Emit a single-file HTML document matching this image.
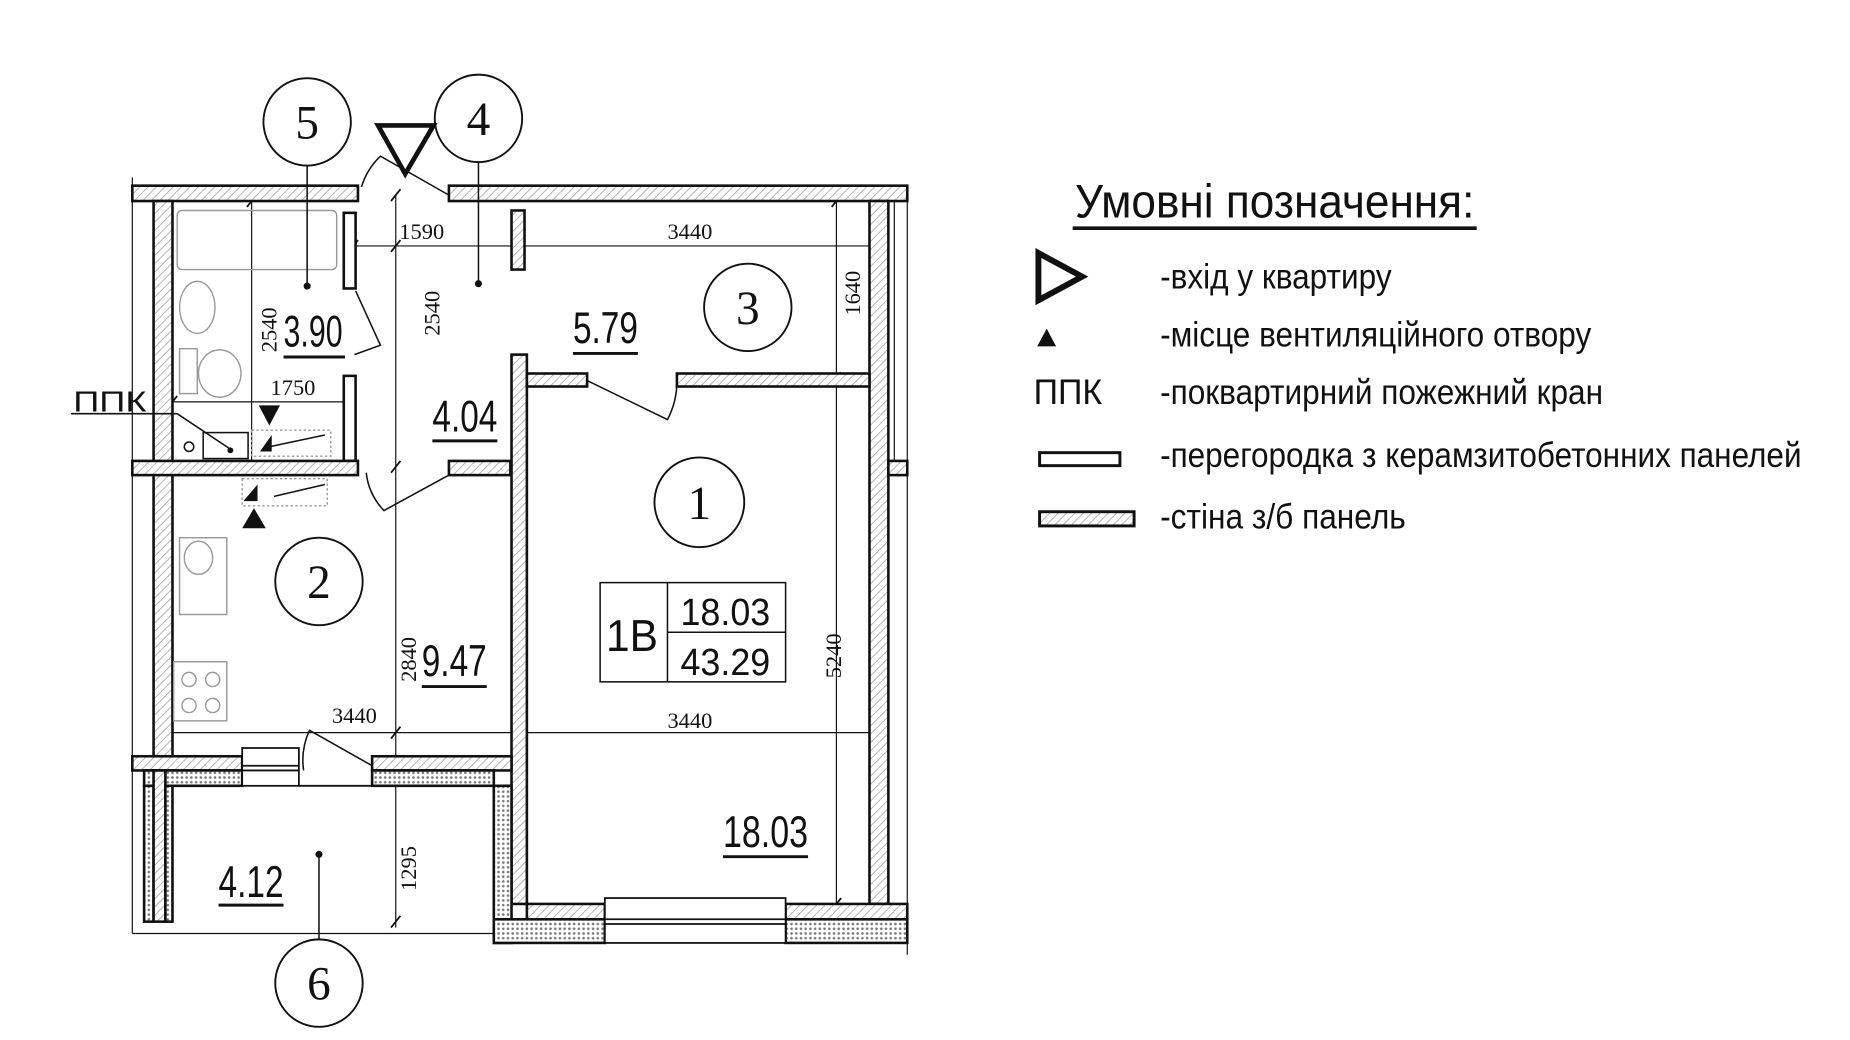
<!DOCTYPE html>
<html><head><meta charset="utf-8"><style>
html,body{margin:0;padding:0;background:#fff;}
svg{display:block;}
text{font-family:"Liberation Sans","Noto Sans CJK SC",sans-serif;fill:#111;}
.s{font-family:"Liberation Serif",serif;}
</style></head><body>
<svg width="1850" height="1040" viewBox="0 0 1566 880" xmlns="http://www.w3.org/2000/svg">
<defs>
<pattern id="h" width="5" height="5" patternUnits="userSpaceOnUse" patternTransform="rotate(45)">
<rect width="5" height="5" fill="#fff"/><line x1="0" y1="0" x2="0" y2="5" stroke="#aaa" stroke-width="1.5"/></pattern>
<pattern id="d" width="4" height="4" patternUnits="userSpaceOnUse">
<rect width="4" height="4" fill="#fff"/><circle cx="2" cy="2" r="1.1" fill="#777"/></pattern>
</defs>
<rect width="1566" height="880" fill="#fff"/>
<g stroke="#111" fill="none" stroke-width="1">
<line x1="112" y1="150" x2="112" y2="790"/>
<line x1="768" y1="160" x2="768" y2="808"/>
<line x1="112" y1="790" x2="420" y2="790"/>
<line x1="757" y1="170" x2="757" y2="390"/>
<line x1="290" y1="208" x2="745" y2="208"/>
<line x1="335" y1="165" x2="335" y2="785"/>
<line x1="213" y1="170" x2="213" y2="395"/>
<line x1="147" y1="340" x2="300" y2="340"/>
<line x1="140" y1="620" x2="745" y2="620"/>
<line x1="708" y1="170" x2="708" y2="770"/>
<g stroke-width="1.5">
<line x1="295" y1="213" x2="303" y2="203"/><line x1="331" y1="213" x2="339" y2="203"/><line x1="435" y1="213" x2="443" y2="203"/><line x1="740" y1="213" x2="748" y2="203"/>
<line x1="142" y1="345" x2="150" y2="335"/><line x1="293" y1="345" x2="301" y2="335"/>
<line x1="138" y1="625" x2="146" y2="615"/><line x1="331" y1="625" x2="339" y2="615"/><line x1="436" y1="625" x2="444" y2="615"/><line x1="740" y1="625" x2="748" y2="615"/>
<line x1="331" y1="170" x2="339" y2="160"/><line x1="331" y1="400" x2="339" y2="390"/><line x1="331" y1="657" x2="339" y2="647"/><line x1="331" y1="785" x2="339" y2="775"/>
<line x1="209" y1="175" x2="217" y2="165"/><line x1="209" y1="400" x2="217" y2="390"/>
<line x1="704" y1="325" x2="712" y2="315"/><line x1="704" y1="175" x2="712" y2="165"/><line x1="704" y1="770" x2="712" y2="760"/>
</g>
</g>
<g stroke="#111" stroke-width="2.2">
<rect x="112" y="157" width="191" height="13" fill="url(#h)"/>
<rect x="380" y="157" width="388" height="13" fill="url(#h)"/>
<rect x="130" y="170" width="16" height="470" fill="url(#h)"/>
<rect x="736" y="170" width="16" height="595" fill="url(#h)"/>
<rect x="291" y="180" width="10" height="64" fill="#fff"/>
<rect x="291" y="318" width="10" height="72" fill="#fff"/>
<rect x="112" y="390" width="191" height="12" fill="url(#h)"/>
<rect x="380" y="390" width="52" height="12" fill="url(#h)"/>
<rect x="433" y="300" width="13" height="465" fill="url(#h)"/>
<rect x="433" y="178" width="11" height="50" fill="url(#h)"/>
<rect x="446" y="316" width="51" height="11" fill="url(#h)"/>
<rect x="573" y="316" width="163" height="11" fill="url(#h)"/>
<rect x="752" y="390" width="16" height="12" fill="url(#h)"/>
<rect x="112" y="640" width="93" height="12" fill="url(#h)"/>
<rect x="315" y="640" width="118" height="12" fill="url(#h)"/>
<rect x="122" y="652" width="83" height="13" fill="url(#d)"/>
<rect x="315" y="652" width="103" height="13" fill="url(#d)"/>
<rect x="122" y="665" width="8" height="115" fill="url(#d)"/>
<rect x="130" y="652" width="10" height="128" fill="url(#h)"/>
<rect x="140" y="665" width="6" height="115" fill="url(#d)"/>
<rect x="418" y="665" width="15" height="133" fill="url(#d)"/>
<rect x="446" y="765" width="66" height="13" fill="url(#h)"/>
<rect x="665" y="765" width="103" height="13" fill="url(#h)"/>
<rect x="418" y="778" width="94" height="20" fill="url(#d)"/>
<rect x="665" y="778" width="103" height="20" fill="url(#d)"/>
</g>
<g stroke="#111" stroke-width="1.5" fill="#fff">
<rect x="512" y="760" width="153" height="38"/>
<line x1="512" y1="778" x2="665" y2="778"/><line x1="512" y1="782" x2="665" y2="782"/>
<rect x="205" y="633" width="48" height="32"/>
<line x1="205" y1="648" x2="253" y2="648"/><line x1="205" y1="652" x2="253" y2="652"/>
<line x1="253" y1="665" x2="315" y2="665"/>
</g>
<g stroke="#111" stroke-width="1.3" fill="none">
<path d="M380 165 L322 132 A60 60 0 0 0 306 158"/>
<path d="M497 322 L565 355 A70 70 0 0 0 573 322"/>
<path d="M301 246 L322 292 L300 300"/>
<path d="M380 402 L325 432 A55 55 0 0 1 310 400"/>
<path d="M315 648 L262 618 A60 60 0 0 0 257 652"/>
</g>
<g stroke="#999" stroke-width="1.2" fill="none">
<rect x="150" y="178" width="135" height="50" rx="4"/>
<ellipse cx="167" cy="260" rx="15" ry="22"/>
<rect x="152" y="295" width="15" height="38"/>
<ellipse cx="186" cy="316" rx="18" ry="20"/>
<rect x="152" y="455" width="40" height="65"/><ellipse cx="168" cy="472" rx="12" ry="14"/>
<rect x="147" y="560" width="45" height="50"/><circle cx="160" cy="575" r="6"/><circle cx="180" cy="575" r="6"/><circle cx="160" cy="597" r="6"/><circle cx="180" cy="597" r="6"/>
<rect x="213" y="364" width="67" height="22" stroke-dasharray="2 2"/>
<rect x="205" y="405" width="72" height="23" stroke-dasharray="2 2"/>
</g>
<g stroke="#111" stroke-width="1.3" fill="none">
<rect x="172" y="366" width="38" height="22"/><circle cx="160" cy="378" r="4"/>
<path d="M60 350 L150 350 L195 380"/>
<path d="M228 378 L275 368 M232 420 L275 410"/>
</g>
<circle cx="195" cy="381" r="2.5" fill="#111"/>
<g fill="#111">
<polygon points="219,343 237,343 228,360"/>
<polygon points="205,447 225,447 215,430"/>
<polygon points="220,382 230,368 230,382"/>
<polygon points="206,424 218,410 218,424"/>
</g>
<g stroke="#111" stroke-width="1.6" fill="#fff">
<circle cx="260" cy="103" r="37"/>
<circle cx="405" cy="100" r="37"/>
<circle cx="633" cy="260" r="37"/>
<circle cx="592" cy="425" r="38"/>
<circle cx="270" cy="492" r="37"/>
<circle cx="270" cy="832" r="37"/>
</g>
<g stroke="#111" stroke-width="1.3">
<line x1="260" y1="140" x2="260" y2="242"/>
<line x1="405" y1="137" x2="405" y2="240"/>
<line x1="270" y1="795" x2="270" y2="723"/>
</g>
<circle cx="260" cy="242" r="3" fill="#111"/><circle cx="405" cy="240" r="3" fill="#111"/><circle cx="270" cy="723" r="3" fill="#111"/>
<polygon points="320,106 367,106 343,147" fill="none" stroke="#111" stroke-width="4"/>
<g class="s" font-size="40" text-anchor="middle">
<text class="s" x="260" y="117">5</text><text class="s" x="405" y="114">4</text><text class="s" x="633" y="274">3</text>
<text class="s" x="592" y="439">1</text><text class="s" x="270" y="506">2</text><text class="s" x="270" y="846">6</text>
</g>
<g font-size="19" class="s">
<text class="s" x="338" y="202">1590</text>
<text class="s" x="565" y="202">3440</text>
<text class="s" x="229" y="334">1750</text>
<text class="s" x="281" y="612">3440</text>
<text class="s" x="565" y="616">3440</text>
<text class="s" transform="translate(372,284) rotate(-90)">2540</text>
<text class="s" transform="translate(234,298) rotate(-90)">2540</text>
<text class="s" transform="translate(352,577) rotate(-90)">2840</text>
<text class="s" transform="translate(352,754) rotate(-90)">1295</text>
<text class="s" transform="translate(728,267) rotate(-90)">1640</text>
<text class="s" transform="translate(712,574) rotate(-90)">5240</text>
</g>
<g font-size="38">
<text x="240" y="293" textLength="50" lengthAdjust="spacingAndGlyphs">3.90</text>
<text x="485" y="290" textLength="55" lengthAdjust="spacingAndGlyphs">5.79</text>
<text x="366" y="365" textLength="55" lengthAdjust="spacingAndGlyphs">4.04</text>
<text x="357" y="572" textLength="55" lengthAdjust="spacingAndGlyphs">9.47</text>
<text x="612" y="717" textLength="72" lengthAdjust="spacingAndGlyphs">18.03</text>
<text x="185" y="759" textLength="55" lengthAdjust="spacingAndGlyphs">4.12</text>
<text x="513" y="551" textLength="44" lengthAdjust="spacingAndGlyphs">1В</text>
</g>
<g stroke="#111" stroke-width="2.5">
<line x1="240" y1="302" x2="292" y2="302"/>
<line x1="485" y1="299" x2="540" y2="299"/>
<line x1="366" y1="373" x2="421" y2="373"/>
<line x1="357" y1="581" x2="412" y2="581"/>
<line x1="612" y1="725" x2="684" y2="725"/>
<line x1="185" y1="766" x2="240" y2="766"/>
</g>
<g stroke="#111" stroke-width="1.3" fill="none">
<rect x="508" y="493" width="157" height="84"/>
<line x1="565" y1="493" x2="565" y2="577"/>
<line x1="565" y1="535" x2="665" y2="535"/>
</g>
<g font-size="32">
<text x="576" y="529" textLength="76" lengthAdjust="spacingAndGlyphs">18.03</text>
<text x="576" y="571" textLength="76" lengthAdjust="spacingAndGlyphs">43.29</text>
</g>
<text x="62" y="348" font-size="24" textLength="62" lengthAdjust="spacingAndGlyphs">ППК</text>
<text x="910" y="184" font-size="40" textLength="338" lengthAdjust="spacingAndGlyphs">Умовні позначення:</text>
<line x1="908" y1="193" x2="1250" y2="193" stroke="#111" stroke-width="3"/>
<polygon points="879,214 879,254 916,234" fill="none" stroke="#111" stroke-width="5"/>
<polygon points="878,293 894,293 886,278" fill="#111"/>
<g font-size="30">
<text x="982" y="244" textLength="196" lengthAdjust="spacingAndGlyphs">-вхід у квартиру</text>
<text x="982" y="293" textLength="365" lengthAdjust="spacingAndGlyphs">-місце вентиляційного отвору</text>
<text x="875" y="342" textLength="58" lengthAdjust="spacingAndGlyphs">ППК</text>
<text x="982" y="342" textLength="375" lengthAdjust="spacingAndGlyphs">-поквартирний пожежний кран</text>
<text x="982" y="395" textLength="543" lengthAdjust="spacingAndGlyphs">-перегородка з керамзитобетонних панелей</text>
<text x="982" y="447" textLength="208" lengthAdjust="spacingAndGlyphs">-стіна з/б панель</text>
</g>
<rect x="880" y="383" width="68" height="11" fill="#fff" stroke="#111" stroke-width="2.5"/>
<rect x="880" y="433" width="80" height="12" fill="url(#h)" stroke="#111" stroke-width="2.5"/>
</svg>
</body></html>
